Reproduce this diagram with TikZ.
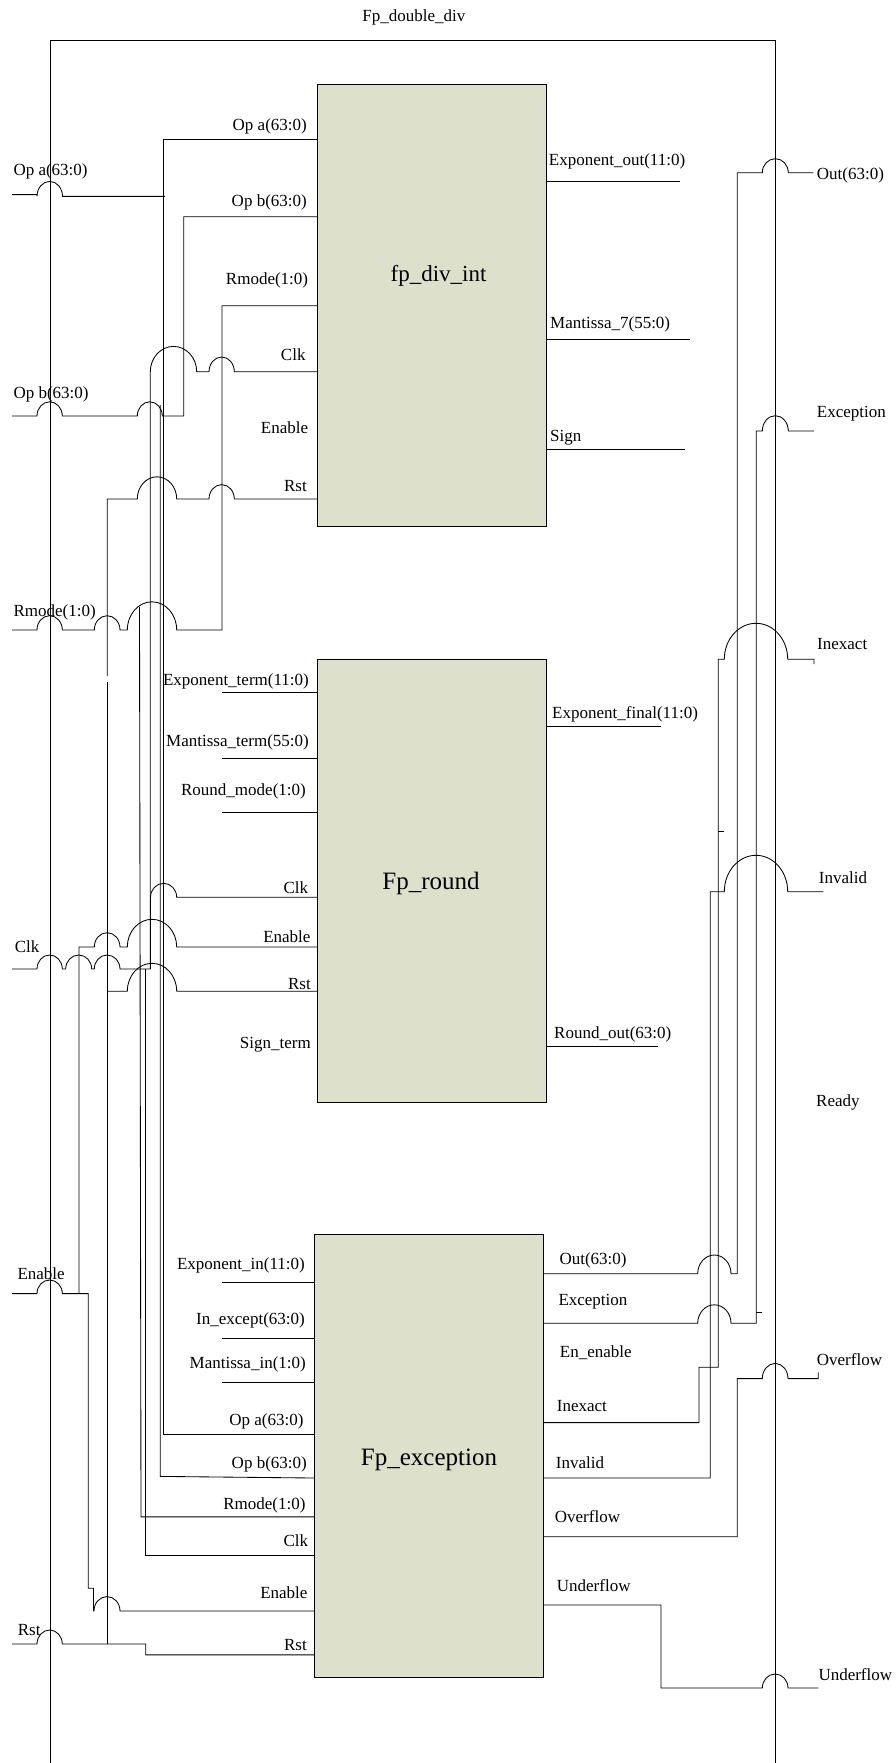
\documentclass[tikz,border=0pt]{standalone}
\usepackage{fontspec}
\setmainfont{Liberation Serif}
\definecolor{blockfill}{HTML}{DDE1CC}
\def\hop#1#2#3#4{-- (#1,#3) .. controls (#1,{#3-0.5523*#4}) and ({(#1+#2)/2-0.5523*(#2-#1)/2},{#3-#4}) .. ({(#1+#2)/2},{#3-#4}) .. controls ({(#1+#2)/2+0.5523*(#2-#1)/2},{#3-#4}) and (#2,{#3-0.5523*#4}) .. (#2,#3)}
\tikzset{
  wire/.style={draw=black,line width=0.85pt,line join=miter},
  block/.style={draw=black,fill=blockfill,line width=0.85pt,inner sep=0pt,outer sep=0pt},
  lblr/.style={anchor=base east,inner sep=0pt,yshift=-6pt,font=\fontsize{17}{20}\selectfont},
  lbll/.style={anchor=base west,inner sep=0pt,yshift=-6pt,font=\fontsize{17}{20}\selectfont},
  title/.style={anchor=center,inner sep=0pt},
}
\begin{document}
\begin{tikzpicture}[x=1pt,y=-1pt]
\useasboundingbox (0,0) rectangle (895,1763);
% outer frame
\coordinate (frameBL) at (50.5,1763);
\coordinate (frameTL) at (50.5,40.5);
\coordinate (frameTR) at (775.7,40.5);
\coordinate (frameBR) at (775.7,1763);
\draw[wire] (frameBL) -- (frameTL) -- (frameTR) -- (frameBR);
% blocks
\node[block,minimum width=229pt,minimum height=442.5pt] (divint) at (432,305.25) {};
\node[block,minimum width=229pt,minimum height=442.7pt] (round) at (432,880.65) {};
\node[block,minimum width=229.5pt,minimum height=442.5pt] (except) at (428.75,1456) {};
% titles
\node[title,font=\fontsize{17}{20}\selectfont] (ttop) at (413.8,17.5) {Fp\_double\_div};
\node[title,font=\fontsize{23}{27}\selectfont] (tdiv) at (438.5,276) {fp\_div\_int};
\node[title,font=\fontsize{25}{30}\selectfont] (tround) at (431,883) {Fp\_round};
\node[title,font=\fontsize{25}{30}\selectfont] (texc) at (429,1460) {Fp\_exception};
% input pins
\coordinate (inA) at (12,194.6);
\coordinate (inB) at (12,416);
\coordinate (inR) at (12,630);
\coordinate (inC) at (12,969);
\coordinate (inE) at (12,1293.6);
\coordinate (inS) at (12,1644);
% block pins
\coordinate (dA) at (divint.west |- 0,139.3);
\coordinate (dB) at (divint.west |- 0,216.8);
\coordinate (dR) at (divint.west |- 0,305.7);
\coordinate (dC) at (divint.west |- 0,371.8);
\coordinate (dS) at (divint.west |- 0,499);
\coordinate (rC) at (round.west |- 0,897.3);
\coordinate (rE) at (round.west |- 0,947);
\coordinate (rS) at (round.west |- 0,991.3);
\coordinate (eA) at (except.west |- 0,1434);
\coordinate (eB) at (except.west |- 0,1478);
\coordinate (eR) at (except.west |- 0,1516.9);
\coordinate (eC) at (except.west |- 0,1555.3);
\coordinate (eE) at (except.west |- 0,1611);
\coordinate (eS) at (except.west |- 0,1654.9);
% Op a
\draw[wire] (inA) -- (37,194.6) \hop{37}{62.5}{196.4}{15} -- (165,196.4);
\draw[wire] (dA) -- (163.5,139.3) -- (163.5,1434) -- (eA);
% Op b
\draw[wire] (dB) -- (183.7,216.8) -- (183.7,416) \hop{162.3}{137.3}{416}{14.2} \hop{62.3}{37}{416}{14.2} -- (inB);
\draw[wire] (160.3,405) -- (160.3,1476.4) -- (eB);
% Rmode
\draw[wire] (dR) -- (222,305.7) -- (222,630) \hop{176.7}{127.3}{630}{28.2} \hop{120}{94.3}{630}{14.3} \hop{62.3}{37}{630}{14.3} -- (inR);
\draw[wire] (139.5,607) -- (141,1516.9) -- (eR);
% Clk
\draw[wire] (dC) \hop{234.3}{209}{371.8}{14.8} \hop{196.7}{150.3}{371.8}{25.4} -- (150.3,969) \hop{120}{94.3}{969}{14} \hop{91.7}{65.7}{969}{14} \hop{62.3}{37}{969}{14} -- (inC);
\draw[wire] (rC) \hop{176.7}{150.5}{897.3}{14} -- (150.5,969);
\draw[wire] (145.7,969) -- (145.7,1555.3) -- (eC);
% Enable
\draw[wire] (rE) \hop{176.7}{127.3}{947}{27.7} \hop{120}{94.3}{947}{14.3} -- (79,947) -- (79,1293.6);
\draw[wire] (inE) \hop{37}{62.3}{1293.6}{13.6} -- (88.3,1293.6) -- (88.3,1588.3) -- (93.5,1588.3) -- (93.5,1611) \hop{94}{120}{1611}{14.4} -- (eE);
% Rst
\draw[wire] (dS) \hop{234.3}{209}{499}{14.4} \hop{176.7}{137.3}{499}{22.2} -- (107.3,499) -- (107.3,676);
\draw[wire] (107.3,682) -- (107.3,1644);
\draw[wire] (rS) \hop{176.7}{127.3}{991.3}{28} -- (107.3,991.3);
\draw[wire] (inS) \hop{37}{62.3}{1644}{14} -- (145.7,1644) -- (145.7,1654.9) -- (eS);
% stub inputs
\coordinate (xa) at (222,692.3);   \draw[wire] (xa) -- (round.west |- xa);
\coordinate (xb) at (222,758.7);   \draw[wire] (xb) -- (round.west |- xb);
\coordinate (xc) at (222,812.7);   \draw[wire] (xc) -- (round.west |- xc);
\coordinate (xd) at (222,1282.7);  \draw[wire] (xd) -- (except.west |- xd);
\coordinate (xe) at (222,1338);    \draw[wire] (xe) -- (except.west |- xe);
\coordinate (xf) at (222,1382.3);  \draw[wire] (xf) -- (except.west |- xf);
% stub outputs
\coordinate (oa) at (680,181);     \draw[wire] (divint.east |- oa) -- (oa);
\coordinate (ob) at (690,339.7);   \draw[wire] (divint.east |- ob) -- (ob);
\coordinate (oc) at (685,449.3);   \draw[wire] (divint.east |- oc) -- (oc);
\coordinate (od) at (661,726.4);   \draw[wire] (round.east |- od) -- (od);
\coordinate (oe) at (658,1046.8);  \draw[wire] (round.east |- oe) -- (oe);
% outputs of Fp_exception
\coordinate (xO) at (except.east |- 0,1273.7);
\coordinate (xE) at (except.east |- 0,1323.2);
\coordinate (xI) at (except.east |- 0,1422.6);
\coordinate (xV) at (except.east |- 0,1478);
\coordinate (xF) at (except.east |- 0,1536.8);
\coordinate (xU) at (except.east |- 0,1605);
\coordinate (pO) at (813.3,172.7);
\coordinate (pE) at (814,431);
\coordinate (pI) at (814,664);
\coordinate (pV) at (823.3,891.7);
\coordinate (pF) at (818.3,1372.4);
\coordinate (pU) at (818.3,1688);
\draw[wire] (xO) \hop{697.7}{731}{1273.7}{18.7} -- (737.3,1273.7) -- (737.3,172.7) \hop{762.3}{788.3}{172.7}{14} -- (pO);
\draw[wire] (xE) \hop{697.7}{731}{1323.2}{18.4} -- (756.3,1323.2) -- (756.3,431) \hop{762.3}{788.3}{431}{15.3} -- (pE);
\draw[wire] (756.3,1312) -- (761.7,1312);
\draw[wire] (xI) -- (699,1422.6) -- (699,1367.2) -- (718.3,1367.2) -- (718.3,659.3) \hop{724.3}{787.7}{659.3}{36} -- (814,659.3) -- (pI);
\draw[wire] (718.3,831) -- (723.7,831);
\draw[wire] (xV) -- (710.3,1478) -- (710.3,891.7) \hop{724.3}{787.7}{891.7}{36.4} -- (pV);
\draw[wire] (xF) -- (737.3,1536.8) -- (737.3,1378.6) \hop{762.3}{788}{1378.6}{15.2} -- (818.3,1378.6) -- (pF);
\draw[wire] (xU) -- (661,1605) -- (661,1688) \hop{762.3}{788}{1688}{14} -- (pU);
% left labels
\node[lbll] (lA) at (13.3,169.6) {Op a(63:0)};
\node[lbll] (lB) at (13.3,392) {Op b(63:0)};
\node[lbll] (lR) at (13.3,610.7) {Rmode(1:0)};
\node[lbll] (lC) at (14.7,946.7) {Clk};
\node[lbll] (lE) at (17.3,1273.5) {Enable};
\node[lbll] (lS) at (17.7,1629.4) {Rst};
% divint labels
\node[lblr] (d1) at (307,124.3) {Op a(63:0)};
\node[lblr] (d2) at (307,201) {Op b(63:0)};
\node[lblr] (d3) at (308.3,278.6) {Rmode(1:0)};
\node[lblr] (d4) at (305.7,354.3) {Clk};
\node[lblr] (d5) at (308.3,427.5) {Enable};
\node[lblr] (d6) at (307,485) {Rst};
\node[lbll] (d7) at (548.7,160) {Exponent\_out(11:0)};
\node[lbll] (d8) at (550,322.7) {Mantissa\_7(55:0)};
\node[lbll] (d9) at (550,435) {Sign};
% round labels
\node[lblr] (r1) at (309,679.3) {Exponent\_term(11:0)};
\node[lblr] (r2) at (309,740) {Mantissa\_term(55:0)};
\node[lblr] (r3) at (306,789) {Round\_mode(1:0)};
\node[lblr] (r4) at (308.3,887.3) {Clk};
\node[lblr] (r5) at (310.7,936) {Enable};
\node[lblr] (r6) at (311,983.3) {Rst};
\node[lblr] (r7) at (311,1042.3) {Sign\_term};
\node[lbll] (r8) at (552,712) {Exponent\_final(11:0)};
\node[lbll] (r9) at (554,1032) {Round\_out(63:0)};
% exception labels
\node[lblr] (e1) at (305,1263) {Exponent\_in(11:0)};
\node[lblr] (e2) at (305,1318.4) {In\_except(63:0)};
\node[lblr] (e3) at (306,1362.6) {Mantissa\_in(1:0)};
\node[lblr] (e4) at (303.7,1419) {Op a(63:0)};
\node[lblr] (e5) at (307,1462.8) {Op b(63:0)};
\node[lblr] (e6) at (305.7,1503.6) {Rmode(1:0)};
\node[lblr] (e7) at (308.3,1540) {Clk};
\node[lblr] (e8) at (307.7,1592.7) {Enable};
\node[lblr] (e9) at (307,1644) {Rst};
\node[lbll] (f1) at (559.3,1258) {Out(63:0)};
\node[lbll] (f2) at (558.3,1299.6) {Exception};
\node[lbll] (f3) at (559.7,1351.6) {En\_enable};
\node[lbll] (f4) at (556.7,1405.6) {Inexact};
\node[lbll] (f5) at (555.7,1462.4) {Invalid};
\node[lbll] (f6) at (554.7,1516.7) {Overflow};
\node[lbll] (f7) at (556.7,1585.6) {Underflow};
% right labels
\node[lbll] (g1) at (816.7,173.3) {Out(63:0)};
\node[lbll] (g2) at (816.7,411) {Exception};
\node[lbll] (g3) at (817,643.3) {Inexact};
\node[lbll] (g4) at (818.7,877.7) {Invalid};
\node[lbll] (g5) at (816,1100.8) {Ready};
\node[lbll] (g6) at (816.7,1359.2) {Overflow};
\node[lbll] (g7) at (818.3,1674.6) {Underflow};
\end{tikzpicture}
\end{document}
